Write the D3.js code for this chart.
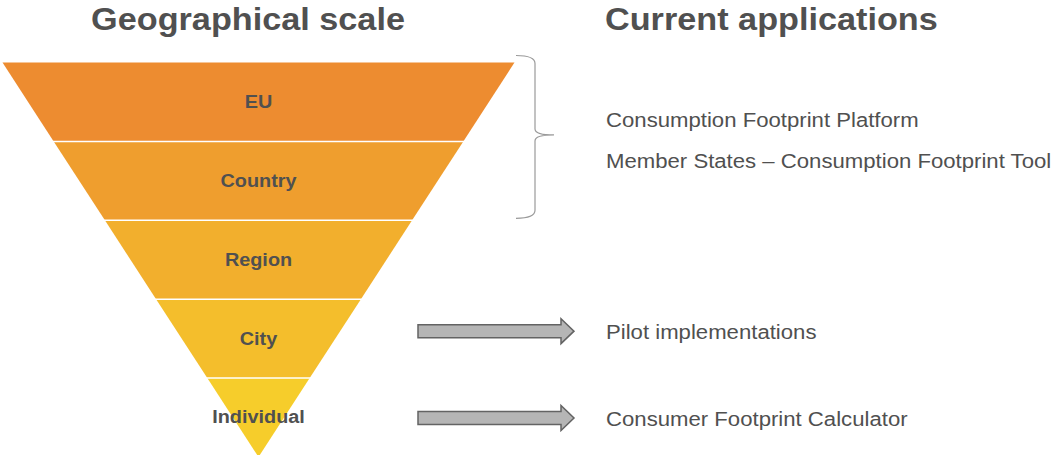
<!DOCTYPE html>
<html><head><meta charset="utf-8">
<script src="https://cdn.jsdelivr.net/npm/d3@7"></script>
<style>html,body{margin:0;padding:0;background:#fff;}svg{display:block;}</style>
</head><body>
<svg id="c" width="1051" height="455"></svg>
<script>
const categories = ["EU", "Country", "Region", "City", "Individual"];
const bandColors = ["#ED8C30", "#EF9E2E", "#F2AF2D", "#F4BE2C", "#F6CD2B"];
const titles = ["Geographical scale", "Current applications"];
const groupedApps = ["Consumption Footprint Platform", "Member States \u2013 Consumption Footprint Tool"];
const groupedSpan = ["EU", "Country"];
const arrowApps = [{cat: "City", text: "Pilot implementations"}, {cat: "Individual", text: "Consumer Footprint Calculator"}];

const svg = d3.select("#c");
const textColor = "#505050";
const FONT = "Liberation Sans, Arial, sans-serif";
const cx = 258.5;
const y = d3.scaleBand().domain(categories).range([62.5, 457]).paddingInner(0).paddingOuter(0);
const yTop = y.range()[0], yBot = y.range()[1];
const halfW = d3.scaleLinear().domain([yTop, yBot]).range([256, 0]);

function stretchedText(x, yy, str, size, weight, anchor, sx) {
  return svg.append("text")
    .attr("transform", `translate(${x},${yy}) scale(${sx},1)`)
    .attr("text-anchor", anchor)
    .attr("font-family", FONT).attr("font-weight", weight)
    .attr("font-size", size).attr("fill", textColor).text(str);
}

// bands
categories.forEach((c, i) => {
  const y0 = y(c), y1 = y0 + y.bandwidth();
  const pts = [[cx - halfW(y0), y0], [cx + halfW(y0), y0], [cx + halfW(y1), y1], [cx - halfW(y1), y1]];
  svg.append("path").attr("d", d3.line()(pts) + "Z").attr("fill", bandColors[i]);
});
// separators
categories.slice(1).forEach(c => {
  const yy = y(c);
  svg.append("line").attr("x1", cx - halfW(yy) - 1).attr("x2", cx + halfW(yy) + 1)
    .attr("y1", yy).attr("y2", yy).attr("stroke", "#fff").attr("stroke-width", 1.5);
});
// labels
categories.forEach((c, i) => {
  const base = y(c) + y.bandwidth() / 2 + 6.5 - (i === 4 ? 1.5 : 0);
  stretchedText(cx, base, c, 19, "bold", "middle", 1.045);
});

// titles
stretchedText(248, 30, titles[0], 32, "bold", "middle", 1.07);
stretchedText(605, 30, titles[1], 32, "bold", "start", 1.07);

// brace
const bTop = y(groupedSpan[0]) - 7, bBot = y(groupedSpan[1]) + y.bandwidth() - 2;
const bMid = (bTop + bBot) / 2 - 2;
const bx0 = 516, bx1 = 535, bx2 = 554;
const braceD = `M${bx0},${bTop} Q${bx1},${bTop} ${bx1},${bTop + 8} L${bx1},${bMid - 6} Q${bx1},${bMid} ${bx2},${bMid}` +
  ` Q${bx1},${bMid} ${bx1},${bMid + 6} L${bx1},${bBot - 8} Q${bx1},${bBot} ${bx0},${bBot}`;
svg.append("path").attr("d", braceD).attr("fill", "none").attr("stroke", "#9a9a9a").attr("stroke-width", 1.2);

// grouped apps text
groupedApps.forEach((t, i) => {
  stretchedText(606, 127 + i * 40.5, t, 21, "normal", "start", 1.055);
});

// arrows + texts
arrowApps.forEach((a, i) => {
  const yc = i === 0 ? y(a.cat) + y.bandwidth() / 2 - 7.5 : y(a.cat) + y.bandwidth() / 2 + 0.5;
  const x0 = 418, xs = 561, xt = 574, sh = 6.5, hh = 12.5;
  const pts = [[x0, yc - sh], [xs, yc - sh], [xs, yc - hh], [xt, yc], [xs, yc + hh], [xs, yc + sh], [x0, yc + sh]];
  svg.append("path").attr("d", d3.line()(pts) + "Z").attr("fill", "#b5b5b5")
    .attr("stroke", "#636363").attr("stroke-width", 1.5).attr("stroke-linejoin", "miter");
  stretchedText(606, yc + 7.5, a.text, 21, "normal", "start", 1.055);
});
</script>
</body></html>
